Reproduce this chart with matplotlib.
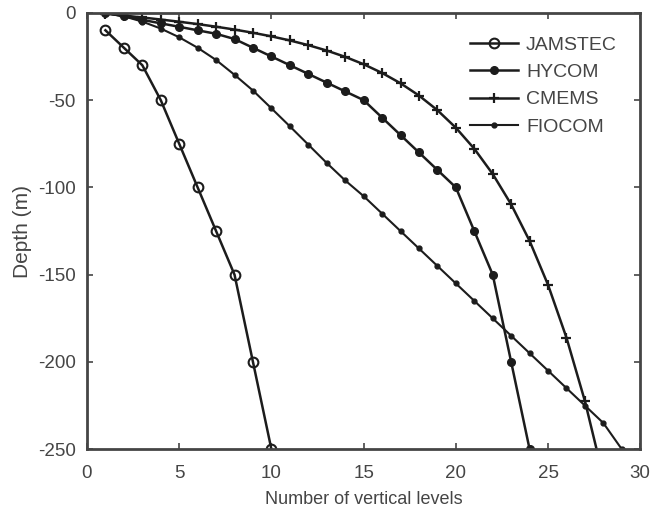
import numpy as np
import matplotlib.pyplot as plt

plt.rcParams['font.family'] = ['Liberation Sans', 'DejaVu Sans']
plt.rcParams['axes.unicode_minus'] = False

# number of levels vs depth (m)
jam_n = [1, 2, 3, 4, 5, 6, 7, 8, 9, 10]
jam_d = [10, 20, 30, 50, 75, 100, 125, 150, 200, 250]

hyc_n = list(range(1, 25))
hyc_d = [0, 2, 4, 6, 8, 10, 12, 15, 20, 25, 30, 35, 40, 45, 50,
         60, 70, 80, 90, 100, 125, 150, 200, 250]

cme_n = list(range(1, 29))
cme_d = [0.49, 1.54, 2.65, 3.82, 5.08, 6.44, 7.93, 9.57, 11.41, 13.47,
         15.81, 18.50, 21.60, 25.21, 29.44, 34.43, 40.34, 47.37, 55.76,
         65.81, 77.85, 92.33, 109.73, 130.67, 155.85, 186.13, 222.48, 266.04]

fio_n = list(range(1, 30))
fio_d = [0, 2, 5, 9, 14, 20, 27, 35.5, 44.5, 54.7, 65, 75.5, 86, 96,
         105, 115, 125, 135, 145, 155, 165, 175, 185, 195, 205, 215,
         225, 235, 250]

lc = '#1c1c1c'
gray = '#454545'

fig = plt.figure(figsize=(6.54, 5.14), dpi=100)
ax = fig.add_axes([0.133, 0.126, 0.846, 0.849])

ax.plot(jam_n, -np.array(jam_d), '-o', color=lc, lw=1.8, ms=7,
        mfc='none', mew=1.5, label='JAMSTEC')
ax.plot(hyc_n, -np.array(hyc_d), '-o', color=lc, lw=1.8, ms=5.5,
        mfc=lc, label='HYCOM')
ax.plot(cme_n, -np.array(cme_d), '-+', color=lc, lw=1.8, ms=7.5,
        mew=1.6, label='CMEMS')
ax.plot(fio_n, -np.array(fio_d), '-o', color=lc, lw=1.5, ms=3.5,
        label='FIOCOM')

ax.set_xlim(0, 30)
ax.set_ylim(-250, 0)
ax.set_xticks([0, 5, 10, 15, 20, 25, 30])
ax.set_yticks([0, -50, -100, -150, -200, -250])
ax.tick_params(direction='in', top=True, right=True, length=4,
               width=1.2, color=gray, labelcolor=gray, labelsize=13.5)
ax.tick_params(axis='x', pad=11)
ax.tick_params(axis='y', pad=8)
for s in ax.spines.values():
    s.set_color(gray)
    s.set_linewidth(2)

ax.set_xlabel('Number of vertical levels', fontsize=13, color=gray,
              labelpad=7)
ax.set_ylabel('Depth (m)', fontsize=15, color=gray, labelpad=4)

leg = ax.legend(loc='upper right', frameon=False, fontsize=14,
                handlelength=2.5, handletextpad=0.4, labelspacing=0.5,
                borderaxespad=0.8)
for t in leg.get_texts():
    t.set_color(gray)

fig.savefig('out.png', dpi=100)
